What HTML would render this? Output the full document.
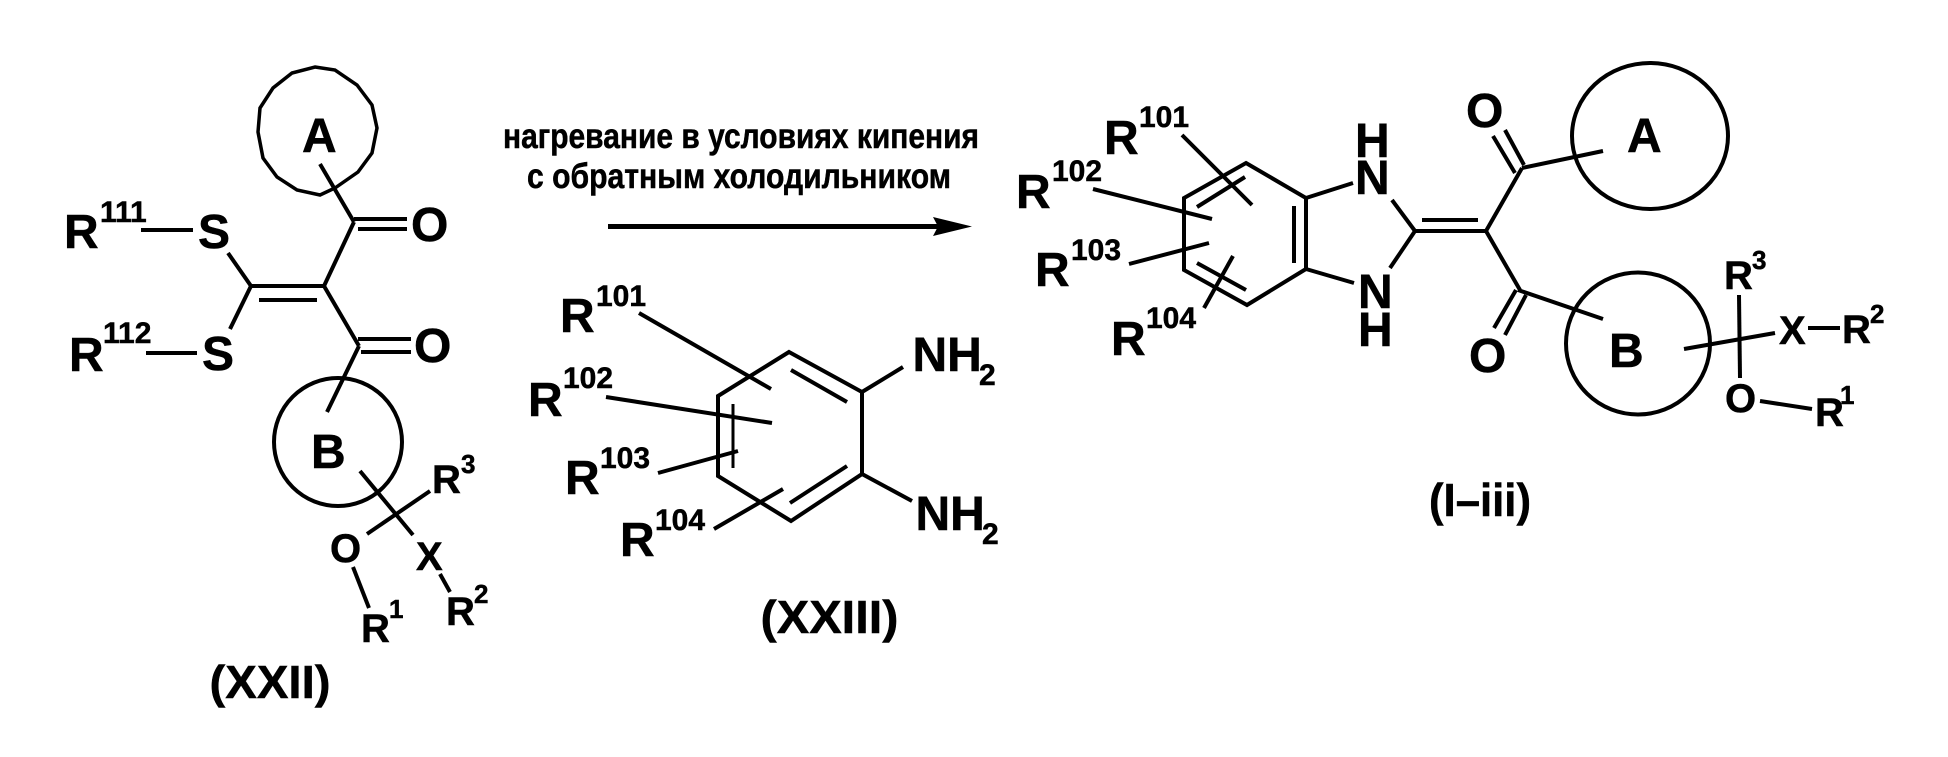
<!DOCTYPE html>
<html><head><meta charset="utf-8"><style>
html,body{margin:0;padding:0;background:#fff}
svg{display:block}
text{font-family:"Liberation Sans",sans-serif;font-weight:bold;fill:#000;stroke:#000;stroke-width:.5}
.b{font-size:48px}.d{font-size:30px}.m{font-size:40px}.s{font-size:26px}.l{font-size:46px}.t{font-size:35px}
line,polyline,polygon{stroke:#000;stroke-width:4;fill:none;stroke-linejoin:miter}
ellipse{stroke:#000;stroke-width:4;fill:none}
</style></head><body>
<svg width="1948" height="757" viewBox="0 0 1948 757" xmlns="http://www.w3.org/2000/svg">
<!-- XXII -->
<polygon points="315,67 335,70 357,85 372,105 377,128 372,153 358,172 335,188 320,195 297,190 277,177 263,158 258,132 260,108 273,88 292,73" style="stroke-width:3.500"/>
<text class="b" x="302" y="152">A</text>
<line x1="320" y1="164" x2="354" y2="222"/>
<line x1="354" y1="219" x2="407" y2="219"/><line x1="358" y1="229" x2="407" y2="229"/>
<text class="b" x="411" y="241">O</text>
<line x1="354" y1="222" x2="324" y2="286"/>
<line x1="251" y1="286" x2="324" y2="286"/><line x1="259" y1="300" x2="317" y2="300"/>
<line x1="228" y1="253" x2="251" y2="286"/><line x1="251" y1="286" x2="230" y2="329"/>
<line x1="324" y1="286" x2="359" y2="346"/>
<line x1="358" y1="339" x2="411" y2="339"/><line x1="361" y1="352" x2="411" y2="352"/>
<text class="b" x="414" y="362">O</text>
<line x1="359" y1="346" x2="327" y2="412"/>
<text class="b" x="64" y="248">R</text><text class="d" x="100" y="222">111</text>
<line x1="141" y1="230" x2="193" y2="230"/>
<text class="b" x="198" y="248">S</text>
<text class="b" x="69" y="371">R</text><text class="d" x="103" y="343">112</text>
<line x1="146" y1="353" x2="197" y2="353"/>
<text class="b" x="202" y="370">S</text>
<ellipse cx="338" cy="442" rx="64" ry="64"/>
<text class="b" x="311" y="468">B</text>
<line x1="360" y1="471" x2="413" y2="535"/><line x1="367" y1="534" x2="430" y2="491"/>
<text class="m" x="432" y="493">R</text><text class="s" x="461" y="473">3</text>
<text class="m" x="330" y="562">O</text>
<line x1="353" y1="567" x2="369" y2="608"/>
<text class="m" x="416" y="570">X</text>
<line x1="440" y1="574" x2="450" y2="592"/>
<text class="m" x="446" y="625">R</text><text class="s" x="474" y="603">2</text>
<text class="m" x="361" y="642">R</text><text class="s" x="389" y="618">1</text>
<text class="l" x="209.500" y="698" textLength="121" lengthAdjust="spacingAndGlyphs">(XXII)</text>
<!-- arrow -->
<text class="t" x="503" y="148" textLength="476" lengthAdjust="spacingAndGlyphs">нагревание в условиях кипения</text>
<text class="t" x="527" y="188" textLength="424" lengthAdjust="spacingAndGlyphs">с обратным холодильником</text>
<line x1="608" y1="226.500" x2="945" y2="226.500" style="stroke-width:5"/>
<polygon points="972,226.500 933,217 938,226.500 933,236" style="fill:#000;stroke:none"/>
<!-- XXIII -->
<text class="b" x="560" y="332">R</text><text class="d" x="596" y="306">101</text>
<line x1="639" y1="313" x2="771" y2="389"/>
<text class="b" x="528" y="416">R</text><text class="d" x="563" y="388">102</text>
<line x1="606" y1="397" x2="772" y2="423"/>
<text class="b" x="565" y="494">R</text><text class="d" x="600" y="468">103</text>
<line x1="658" y1="473" x2="738" y2="451"/>
<text class="b" x="620" y="556">R</text><text class="d" x="655" y="530">104</text>
<line x1="714" y1="529" x2="783" y2="489"/>
<polygon points="789,352 862,392 862,474 791,521 718,476 718,396"/>
<line x1="791" y1="370" x2="847" y2="402"/><line x1="790" y1="503" x2="847" y2="466"/>
<line x1="733" y1="404" x2="733" y2="468" style="stroke-width:3"/>
<line x1="862" y1="392" x2="903" y2="367"/><line x1="862" y1="474" x2="912" y2="501"/>
<text class="b" x="912.500" y="371">NH</text><text class="d" x="979" y="385">2</text>
<text class="b" x="915.500" y="530">NH</text><text class="d" x="982" y="544">2</text>
<text class="l" x="760.500" y="633" textLength="138" lengthAdjust="spacingAndGlyphs">(XXIII)</text>
<!-- I-iii -->
<text class="b" x="1104" y="154">R</text><text class="d" x="1139" y="127">101</text>
<line x1="1182" y1="135" x2="1252" y2="205"/>
<text class="b" x="1016" y="208">R</text><text class="d" x="1052" y="181">102</text>
<line x1="1093" y1="189" x2="1212" y2="219"/>
<text class="b" x="1035" y="286">R</text><text class="d" x="1071" y="260">103</text>
<line x1="1129" y1="264" x2="1209" y2="243"/>
<text class="b" x="1111" y="355">R</text><text class="d" x="1146" y="328">104</text>
<line x1="1204" y1="308" x2="1233" y2="256"/>
<polygon points="1246,163 1306,198 1306,269 1247,305 1184,270 1184,198"/>
<line x1="1197" y1="207" x2="1245" y2="177"/><line x1="1294" y1="206" x2="1294" y2="263"/><line x1="1197" y1="263" x2="1246" y2="290"/>
<line x1="1306" y1="198" x2="1353" y2="183"/><line x1="1306" y1="269" x2="1354" y2="283"/>
<text class="b" x="1355" y="157">H</text><text class="b" x="1355" y="194">N</text>
<text class="b" x="1358" y="308">N</text><text class="b" x="1358" y="346">H</text>
<line x1="1392" y1="200" x2="1415" y2="231"/><line x1="1390" y1="268" x2="1415" y2="231"/>
<line x1="1415" y1="231" x2="1487" y2="231"/><line x1="1422" y1="220" x2="1478" y2="220"/>
<line x1="1486" y1="231" x2="1522" y2="168"/><line x1="1486" y1="231" x2="1520" y2="290"/>
<text class="b" x="1466" y="127">O</text>
<line x1="1493" y1="136" x2="1515" y2="173"/><line x1="1505" y1="130" x2="1524" y2="165"/>
<line x1="1522" y1="168" x2="1603" y2="151"/>
<ellipse cx="1650" cy="136" rx="78" ry="73"/>
<text class="b" x="1627" y="152">A</text>
<line x1="1518" y1="290" x2="1603" y2="319"/>
<line x1="1516" y1="290" x2="1494" y2="328"/><line x1="1526" y1="295" x2="1505" y2="335"/>
<text class="b" x="1469" y="372">O</text>
<ellipse cx="1638" cy="343.500" rx="72" ry="71"/>
<text class="b" x="1609" y="367">B</text>
<line x1="1684" y1="349" x2="1775" y2="333"/>
<line x1="1739" y1="295" x2="1740" y2="378"/>
<text class="m" x="1724" y="289">R</text><text class="s" x="1752" y="269">3</text>
<text class="m" x="1779" y="344">X</text>
<line x1="1808" y1="328" x2="1840" y2="328"/>
<text class="m" x="1842" y="343">R</text><text class="s" x="1870" y="323">2</text>
<text class="m" x="1725" y="412">O</text>
<line x1="1760" y1="401" x2="1812" y2="409"/>
<text class="m" x="1815" y="426">R</text><text class="s" x="1840" y="404">1</text>
<text class="l" x="1429" y="516" textLength="102" lengthAdjust="spacingAndGlyphs">(I–iii)</text>
</svg>
</body></html>
